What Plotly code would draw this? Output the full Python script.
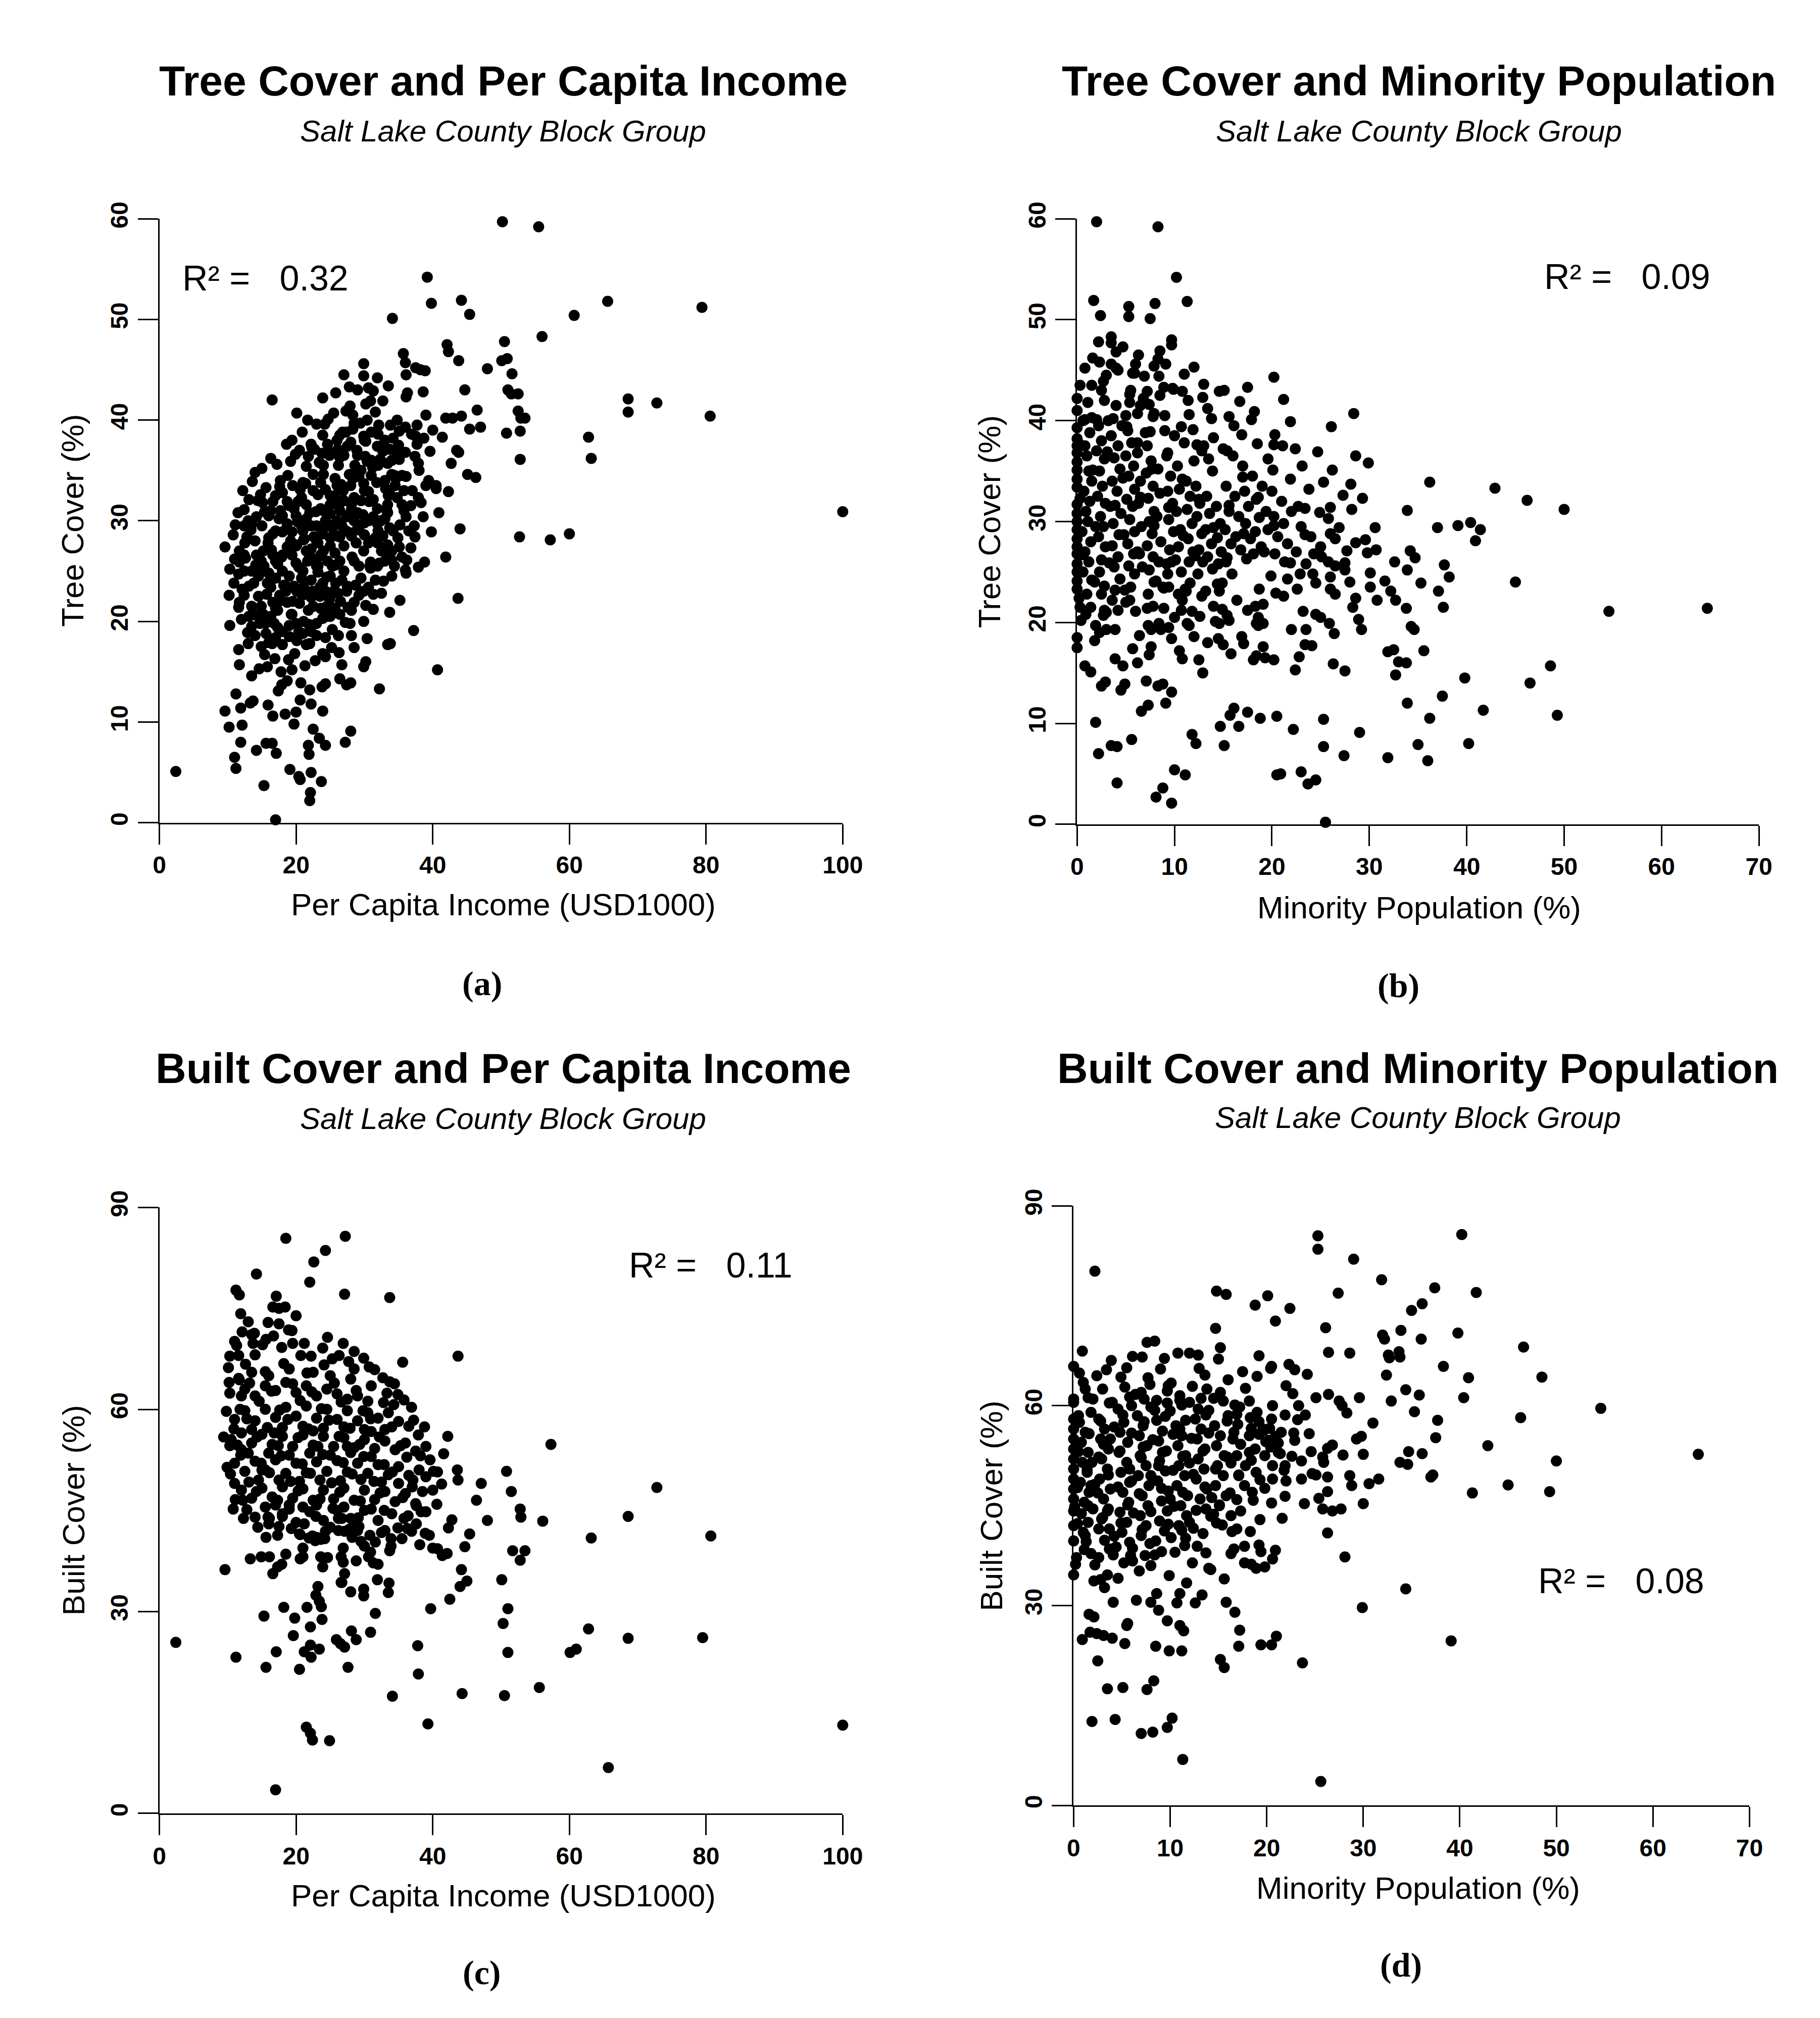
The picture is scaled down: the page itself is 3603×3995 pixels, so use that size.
import plotly.graph_objects as go

W, H = 3603, 3995
PAD = 8  # default <body> margin of the written page

# ---- data: (x, y) pairs per panel ----
tree_income = [
    (2.4, 5.1), (50.2, 59.7), (55.5, 59.2), (39.2, 54.2), (39.8, 51.6), (44.2, 51.9), (45.4, 50.5), (34.1, 50.1),
    (65.6, 51.8), (79.4, 51.2), (60.7, 50.4), (56.0, 48.3), (50.5, 47.8), (50.1, 45.9), (50.9, 46.1), (51.6, 44.6),
    (48.0, 45.1), (42.1, 47.5), (42.3, 46.8), (43.8, 45.9), (35.7, 46.6), (36.0, 45.7), (37.5, 45.2), (38.9, 44.9),
    (38.2, 45.0), (44.7, 43.0), (51.0, 43.0), (51.5, 42.6), (52.5, 42.6), (52.5, 40.9), (52.9, 40.2), (53.5, 40.2),
    (50.8, 38.7), (52.8, 38.9), (52.8, 36.1), (47.0, 39.3), (68.6, 42.1), (68.6, 40.8), (72.8, 41.7), (80.6, 40.4),
    (62.8, 38.3), (63.2, 36.2), (100.0, 30.9), (52.7, 28.4), (57.2, 28.1), (60.0, 28.7), (41.9, 26.4), (43.7, 22.3),
    (40.7, 15.2), (36.1, 44.5), (36.3, 42.7), (36.1, 42.3), (38.6, 42.8), (41.9, 40.2), (42.9, 40.2), (44.2, 40.4),
    (41.4, 38.3), (43.5, 37.0), (43.8, 36.8), (42.7, 35.7), (45.1, 34.6), (46.3, 34.3), (39.4, 34.0), (40.5, 33.2),
    (42.3, 32.9), (37.7, 39.5), (37.5, 38.4), (37.7, 37.6), (37.4, 36.4), (37.9, 35.7), (35.1, 38.9), (36.0, 39.3),
    (37.9, 32.3), (38.6, 30.4), (37.3, 29.5), (37.4, 28.4), (39.8, 28.9), (37.9, 25.4), (36.1, 24.8), (36.0, 25.1),
    (37.2, 19.1), (33.7, 20.9), (33.4, 17.7), (33.8, 17.8), (32.2, 13.3), (31.6, 24.1), (31.3, 21.2), (29.9, 20.0),
    (29.9, 15.5), (30.2, 16.0), (28.0, 9.1), (27.2, 8.0), (27.4, 13.7), (28.0, 13.9), (26.4, 14.3), (26.7, 15.7),
    (26.3, 16.9), (26.2, 18.6), (28.1, 18.6), (28.5, 17.4), (24.3, 18.4), (23.9, 16.8), (24.3, 16.5), (23.8, 13.5),
    (24.3, 13.8), (23.9, 11.1), (22.0, 13.2), (22.2, 11.8), (20.6, 12.2), (22.5, 9.3), (23.4, 8.4), (24.3, 7.7),
    (21.8, 7.7), (21.9, 6.8), (19.1, 5.3), (20.4, 4.6), (20.6, 4.3), (22.2, 5.0), (23.7, 4.1), (22.1, 3.0),
    (22.0, 2.2), (17.0, 0.3), (15.3, 3.7), (17.1, 6.9), (16.5, 7.9), (15.6, 7.9), (14.2, 7.2), (11.0, 6.5),
    (11.2, 5.4), (11.9, 8.0), (10.2, 9.5), (9.6, 11.1), (11.9, 11.4), (12.1, 9.7), (13.3, 11.9), (13.7, 12.1),
    (11.2, 12.8), (15.9, 11.7), (16.6, 10.6), (18.4, 10.8), (20.0, 11.0), (19.7, 9.8), (17.4, 13.1), (18.7, 14.1),
    (17.9, 13.7), (19.4, 15.2), (13.5, 14.6), (11.6, 17.2), (11.7, 15.7), (10.3, 19.6), (10.2, 22.6), (10.3, 25.2),
    (9.6, 27.4), (16.5, 42.0), (17.7, 34.0), (15.6, 33.3), (20.1, 40.7), (21.7, 40.0), (23.9, 42.2), (27.0, 44.5),
    (29.9, 45.6), (29.9, 44.4), (31.9, 44.2), (27.8, 43.3), (31.3, 42.9), (32.7, 41.9), (25.5, 40.7), (27.3, 40.9),
    (30.2, 41.6), (30.9, 41.9), (28.3, 40.5), (28.5, 39.7), (30.4, 40.0), (32.1, 39.5), (18.6, 37.6), (19.4, 38.0),
    (20.5, 37.0), (22.2, 37.6), (22.7, 37.1), (23.9, 38.5), (24.6, 37.6), (23.8, 36.7), (26.4, 38.5), (27.3, 38.8),
    (28.3, 39.1), (29.9, 38.4), (30.2, 37.9), (31.9, 37.4), (32.7, 36.9), (33.7, 37.1), (34.8, 36.7), (35.1, 36.1),
    (32.3, 36.1), (33.4, 35.7), (34.0, 34.6), (34.6, 34.2), (36.1, 34.4), (29.5, 35.0), (30.4, 35.9), (26.4, 36.3),
    (26.2, 35.5), (21.5, 35.4), (22.5, 34.6), (27.8, 34.6), (28.3, 34.2), (25.7, 34.2), (26.2, 33.4), (23.6, 33.8),
    (24.3, 33.1), (29.9, 33.7), (30.6, 32.9), (33.7, 32.7), (34.8, 32.3), (35.5, 31.6), (33.4, 31.6), (35.8, 31.0),
    (36.1, 30.4), (31.3, 32.1), (31.9, 31.2), (28.5, 32.3), (28.1, 31.6), (25.7, 32.5), (26.7, 31.9), (23.6, 31.2),
    (25.0, 31.6), (20.8, 32.3), (21.5, 31.6), (18.7, 31.9), (19.7, 31.2), (16.6, 31.9), (16.3, 31.0), (13.1, 32.1),
    (14.4, 32.0), (12.4, 31.1), (14.2, 30.4), (13.5, 29.7), (12.4, 29.5), (12.8, 28.4), (11.7, 27.0), (12.4, 26.6),
    (11.7, 25.9), (11.6, 24.7), (12.4, 25.0), (12.1, 23.2), (12.4, 22.6), (11.7, 21.9), (11.6, 21.4), (13.5, 21.5),
    (13.8, 20.7), (13.1, 20.5), (13.5, 19.5), (14.9, 21.5), (15.2, 20.7), (14.7, 19.8), (16.6, 21.9), (17.3, 21.1),
    (16.3, 20.5), (15.6, 18.8), (16.0, 17.9), (14.9, 17.5), (15.4, 16.7), (17.3, 19.4), (17.0, 18.4), (18.0, 17.7),
    (19.4, 20.7), (19.0, 19.6), (20.4, 19.0), (20.1, 18.1), (21.5, 17.7), (21.1, 20.0), (21.8, 21.1), (22.2, 19.0),
    (23.0, 19.8), (23.9, 20.3), (23.6, 21.3), (22.2, 22.4), (23.2, 22.8), (24.3, 23.0), (25.7, 21.3), (25.0, 20.5),
    (26.4, 20.7), (28.1, 21.1), (28.5, 21.9), (29.2, 22.6), (27.4, 23.0), (26.7, 24.1), (29.9, 23.0), (30.6, 23.4),
    (25.0, 24.5), (25.8, 23.8), (23.2, 24.9), (23.9, 23.8), (22.2, 24.1), (20.8, 24.3), (21.1, 23.4), (20.1, 23.0),
    (18.4, 23.6), (17.6, 22.6), (18.7, 21.9), (17.0, 24.3), (16.3, 23.4), (14.5, 24.5), (13.8, 23.8), (14.9, 26.0),
    (14.2, 26.6), (15.2, 27.0), (15.9, 27.8), (16.6, 28.7), (16.6, 26.6), (17.3, 25.7), (18.0, 26.6), (18.7, 27.4),
    (19.4, 26.6), (20.1, 27.6), (18.0, 28.9), (18.7, 29.7), (19.4, 28.9), (20.8, 29.5), (21.5, 30.2), (22.2, 29.5),
    (21.1, 28.1), (22.2, 27.2), (23.2, 27.8), (23.9, 28.7), (25.0, 28.3), (23.6, 26.6), (24.6, 26.0), (23.2, 25.5),
    (25.7, 26.8), (26.4, 26.0), (25.3, 25.5), (26.7, 29.5), (27.4, 30.4), (26.4, 31.0), (28.5, 30.0), (29.2, 29.1),
    (28.1, 28.5), (28.8, 27.8), (29.9, 27.0), (30.6, 27.8), (28.5, 26.0), (29.2, 25.5), (30.9, 25.9), (31.9, 25.5),
    (30.9, 25.3), (31.9, 27.8), (32.7, 28.5), (33.4, 27.6), (34.0, 27.0), (35.1, 27.4), (35.5, 26.4), (34.4, 25.5),
    (34.0, 26.1), (31.9, 29.7), (33.0, 30.2), (33.7, 29.3), (30.6, 30.0), (31.3, 30.4), (33.4, 30.8), (25.0, 30.7),
    (24.3, 30.0), (25.3, 29.3), (14.0, 28.0), (15.0, 29.5), (16.0, 30.5), (17.0, 29.0), (18.0, 30.5), (19.0, 31.5),
    (20.0, 30.5), (21.0, 29.0), (22.0, 30.8), (23.0, 29.5), (24.0, 31.0), (25.0, 32.5), (26.0, 33.5), (27.0, 32.0),
    (28.0, 33.5), (29.0, 34.8), (30.0, 33.0), (31.0, 34.5), (32.0, 35.5), (33.0, 34.0), (15.0, 25.0), (16.0, 24.8),
    (17.0, 26.0), (18.0, 25.0), (19.0, 24.5), (20.0, 25.8), (21.0, 25.0), (22.0, 26.5), (23.0, 25.5), (24.0, 27.0),
    (25.0, 27.5), (26.0, 28.5), (27.0, 27.5), (28.0, 28.8), (29.0, 30.8), (30.0, 29.8), (31.0, 28.0), (32.0, 29.0),
    (17.5, 22.0), (18.5, 23.0), (19.5, 22.0), (20.5, 21.8), (21.5, 22.8), (22.5, 21.5), (23.5, 22.5), (24.5, 21.5),
    (25.5, 23.0), (26.5, 22.0), (27.5, 23.5), (18.0, 19.0), (19.0, 18.5), (20.0, 19.8), (21.0, 18.8), (22.0, 17.8),
    (23.0, 18.6), (16.5, 17.8), (15.5, 19.8), (14.5, 22.5), (13.5, 25.0), (12.5, 27.8), (13.0, 30.0), (27.0, 36.5),
    (28.0, 37.8), (29.0, 36.5), (30.0, 38.0), (31.0, 36.0), (32.0, 38.6), (33.0, 38.0), (34.0, 36.0), (35.0, 37.5),
    (36.0, 36.8), (24.0, 35.5), (25.0, 36.8), (26.0, 38.0), (22.5, 33.0), (21.0, 33.8), (19.5, 33.5), (18.0, 32.8),
    (17.0, 32.5), (20.0, 27.5), (21.5, 27.0), (23.0, 28.0), (26.0, 30.0), (27.5, 30.5), (29.5, 32.0), (33.5, 32.5),
    (34.5, 33.5), (35.5, 34.5), (32.5, 27.0), (33.0, 26.0), (34.0, 24.5), (36.5, 29.0), (37.0, 33.0), (38.0, 35.0),
    (39.0, 33.5), (40.5, 33.5),
    (14.2, 20.6), (16.8, 19.8), (19.3, 20.7), (21.9, 19.7), (24.6, 20.5), (27.2, 19.9), (13.1, 23.5), (15.7, 22.7),
    (18.2, 23.6), (20.9, 22.6), (23.5, 23.4), (26.1, 22.8), (28.7, 23.6), (31.3, 22.7), (12.6, 26.3), (15.3, 25.5),
    (17.9, 26.4), (20.4, 25.4), (23.0, 26.2), (25.7, 25.6), (28.2, 26.4), (30.8, 25.5), (33.4, 26.3), (13.4, 29.1),
    (16.0, 28.3), (18.6, 29.2), (21.2, 28.2), (23.8, 29.0), (26.4, 28.4), (29.0, 29.2), (31.6, 28.3), (34.2, 29.0),
    (15.1, 31.8), (17.7, 31.0), (20.3, 31.9), (22.9, 30.9), (25.5, 31.7), (28.1, 31.1), (30.7, 31.9), (33.3, 31.0),
    (18.8, 34.5), (21.4, 33.7), (24.0, 34.6), (26.6, 33.6), (29.2, 34.4), (31.8, 33.8), (34.4, 34.5), (22.3, 37.3),
    (24.9, 36.5), (27.5, 37.4), (30.1, 36.4), (32.7, 37.2), (35.3, 36.6), (24.2, 39.6), (26.8, 38.8), (29.4, 39.7),
    (31.0, 38.8), (33.8, 39.5), (18.9, 16.2), (21.3, 15.6), (20.7, 13.9), (25.3, 19.2), (27.9, 19.8), (30.4, 18.3),
    (32.5, 22.8), (35.2, 22.1), (36.8, 27.3), (38.3, 31.8), (39.6, 36.9), (40.9, 30.8), (14.6, 15.3), (13.0, 17.8),
    (10.9, 23.8), (11.1, 29.6), (12.2, 33.0), (14.0, 34.8), (16.3, 36.2), (19.2, 35.9), (20.9, 38.8), (24.7, 40.1),
    (25.8, 42.7), (29.0, 43.0), (33.5, 43.4), (34.8, 40.0), (40.0, 39.0), (39.0, 40.5), (46.5, 41.0), (45.4, 39.1),
    (44.0, 29.2), (38.8, 25.9),
    (11.0, 26.2), (10.8, 28.6), (11.5, 30.8), (12.0, 20.2), (12.9, 18.9), (14.0, 18.6), (15.8, 15.5), (16.9, 16.3),
    (17.8, 15.0), (19.8, 16.8), (22.8, 16.1), (25.2, 17.4), (13.6, 33.9), (15.0, 35.2), (17.2, 35.6), (19.9, 36.6),
    (21.8, 36.4), (23.0, 39.6), (27.9, 41.4), (30.6, 43.2), (28.6, 35.5), (31.2, 35.3), (33.1, 33.2), (35.8, 33.0),
    (36.8, 31.5), (34.9, 28.3), (36.2, 26.1), (32.8, 24.0), (30.2, 21.6), (27.6, 21.4), (24.9, 22.2), (22.4, 23.0),
    (19.7, 23.5), (17.0, 21.3), (15.8, 23.8), (14.1, 25.6), (16.4, 27.1), (19.2, 28.0), (21.7, 26.0), (24.5, 24.4),
    (27.0, 25.0), (29.5, 24.3), (32.2, 25.8), (30.0, 28.6), (27.3, 29.0), (24.8, 29.6), (22.6, 28.4), (20.2, 29.9),
    (17.5, 30.2), (15.4, 30.9), (14.8, 32.6), (17.6, 33.4), (20.6, 33.1), (23.2, 32.6), (26.9, 33.0), (29.8, 30.6),
    (32.4, 30.0), (35.2, 29.6), (28.9, 37.0), (26.1, 37.1), (23.4, 35.8), (31.6, 40.8), (34.2, 38.2), (36.9, 38.6),
    (38.7, 38.2),
]

tree_minority = [
    (2.0, 59.7), (8.3, 59.2), (10.2, 54.2), (11.3, 51.8), (1.7, 51.9), (2.4, 50.4), (5.3, 51.3), (5.3, 50.3),
    (7.5, 50.1), (8.0, 51.6), (3.5, 48.3), (3.5, 47.7), (9.7, 47.5), (8.5, 46.9), (8.3, 46.1), (7.9, 45.4),
    (6.3, 46.5), (6.9, 44.4), (7.2, 42.9), (7.4, 41.6), (7.9, 40.7), (7.5, 38.9), (0.8, 45.2), (1.6, 46.2),
    (2.3, 45.8), (3.5, 45.6), (4.0, 45.2), (4.2, 45.0), (5.7, 44.7), (5.9, 44.7), (8.4, 44.4), (8.9, 43.3),
    (9.8, 43.2), (10.8, 42.9), (11.4, 42.0), (11.5, 40.6), (5.4, 42.6), (5.4, 41.8), (6.2, 40.7), (5.0, 40.5),
    (5.1, 39.4), (2.0, 40.1), (0.8, 40.1), (0.0, 42.2), (0.0, 41.0), (0.0, 39.3), (0.0, 38.2), (20.2, 44.3),
    (14.6, 42.9), (16.7, 41.9), (21.2, 42.1), (17.9, 40.1), (21.9, 39.9), (20.3, 38.6), (20.2, 37.6), (21.1, 37.5),
    (26.1, 39.4), (28.4, 40.7), (24.7, 36.9), (28.6, 36.5), (29.9, 35.8), (28.1, 33.7), (36.2, 33.9), (42.9, 33.3),
    (46.2, 32.1), (50.0, 31.2), (33.9, 31.1), (23.4, 31.3), (26.0, 31.4), (25.8, 30.3), (37.0, 29.4), (39.1, 29.6),
    (40.4, 29.9), (41.4, 29.2), (40.9, 28.1), (30.6, 29.4), (28.6, 27.9), (29.6, 28.2), (29.8, 26.9), (26.0, 28.8),
    (26.5, 28.3), (27.7, 27.1), (25.1, 26.5), (25.8, 26.0), (26.5, 25.6), (27.5, 25.9), (27.5, 25.2), (34.2, 27.1),
    (34.7, 26.4), (37.7, 25.7), (38.2, 24.5), (33.9, 25.2), (35.3, 23.9), (45.0, 24.0), (30.1, 24.9), (31.6, 24.1),
    (32.2, 23.1), (32.7, 22.2), (30.8, 22.2), (30.1, 23.5), (33.8, 21.4), (37.1, 23.1), (37.6, 21.5), (54.6, 21.1),
    (64.7, 21.4), (24.5, 23.9), (22.9, 24.8), (28.6, 22.4), (28.3, 21.5), (28.9, 20.3), (29.2, 19.3), (26.0, 23.3),
    (26.5, 22.8), (23.2, 21.1), (23.5, 19.3), (22.0, 19.3), (24.5, 20.8), (25.0, 20.5), (25.9, 19.9), (26.4, 18.9),
    (23.4, 17.8), (24.1, 17.7), (22.8, 16.6), (22.4, 15.3), (31.9, 17.1), (32.5, 17.3), (33.0, 16.1), (32.7, 14.8),
    (34.3, 19.6), (34.6, 19.3), (33.8, 16.0), (35.6, 17.2), (27.5, 15.2), (26.3, 15.9), (39.8, 14.5), (46.5, 14.0),
    (48.6, 15.7), (41.7, 11.3), (49.3, 10.8), (37.5, 12.7), (33.9, 12.0), (36.2, 10.5), (40.2, 8.0), (35.0, 7.9),
    (36.0, 6.3), (31.9, 6.6), (29.0, 9.1), (27.4, 6.8), (25.3, 10.4), (25.3, 7.7), (22.2, 9.4), (20.5, 10.7),
    (18.8, 10.5), (17.5, 11.1), (16.1, 11.5), (15.7, 10.8), (16.6, 9.7), (14.7, 9.7), (15.1, 7.8), (11.8, 8.9),
    (12.2, 8.0), (20.5, 4.9), (20.9, 5.0), (23.0, 5.2), (23.7, 4.0), (24.5, 4.4), (25.5, 0.2), (10.0, 5.4),
    (11.1, 4.9), (8.8, 3.6), (8.1, 2.7), (9.7, 2.1), (4.1, 4.1), (3.5, 7.8), (4.1, 7.7), (2.2, 7.0),
    (1.9, 10.1), (5.6, 8.4), (4.5, 13.3), (4.9, 13.9), (2.5, 13.7), (2.9, 14.1), (0.8, 15.7), (1.4, 15.1),
    (3.9, 16.4), (4.7, 15.7), (5.7, 17.4), (6.2, 16.0), (7.1, 14.2), (7.4, 16.8), (7.6, 17.6), (6.6, 11.2),
    (7.3, 11.8), (8.3, 13.7), (8.8, 13.9), (9.1, 12.0), (9.7, 13.1), (10.8, 16.4), (12.5, 16.3), (12.9, 15.0),
    (0.0, 18.5), (0.0, 17.5), (0.9, 20.8), (1.9, 19.7), (2.3, 19.0), (3.0, 19.3), (3.9, 19.3), (4.2, 21.2),
    (5.4, 22.2), (5.0, 22.0), (2.8, 21.2), (2.7, 20.7), (7.2, 21.4), (7.8, 21.6), (7.3, 19.7), (7.6, 19.3),
    (8.4, 19.9), (8.6, 19.3), (9.4, 19.5), (9.7, 18.4), (11.3, 19.9), (11.5, 19.7), (12.0, 18.6), (12.8, 22.6),
    (13.2, 23.1), (14.0, 21.6), (14.2, 20.1), (14.6, 19.9), (15.4, 20.7), (15.6, 20.2), (14.5, 18.4), (15.0, 17.8),
    (15.8, 16.9), (17.1, 17.9), (18.1, 16.3), (18.4, 16.7), (19.1, 17.6), (19.3, 16.5), (18.4, 19.9), (18.6, 19.7),
    (19.1, 19.9), (19.1, 21.8), (18.3, 21.6), (18.6, 20.5), (20.2, 16.3), (14.4, 23.8), (14.6, 23.1), (10.4, 22.8),
    (10.8, 22.2), (11.1, 23.3), (11.6, 23.9), (10.7, 21.2), (8.9, 23.4), (9.4, 23.5),
    (0.0, 34.2), (0.0, 33.4), (0.0, 35.9), (0.0, 35.1), (0.0, 31.7), (0.0, 30.8), (0.0, 30.0), (0.0, 29.2),
    (0.0, 28.3), (0.0, 25.8), (0.0, 25.0), (0.0, 24.1), (0.0, 23.3), (0.0, 36.8), (0.0, 37.5), (0.0, 26.8),
    (0.0, 27.5), (0.6, 40.0), (0.8, 37.5), (1.0, 36.5), (1.2, 35.0), (0.7, 33.0), (1.3, 32.0), (0.9, 31.0),
    (1.1, 30.0), (0.5, 29.0), (1.4, 28.0), (0.8, 27.0), (1.2, 26.0), (0.6, 25.0), (1.5, 24.2), (1.0, 22.8),
    (1.3, 38.8), (1.5, 34.0), (2.2, 39.5), (2.5, 38.0), (2.0, 37.0), (2.8, 36.2), (2.3, 35.0), (2.6, 33.5),
    (2.1, 32.5), (2.9, 31.8), (2.4, 30.5), (2.7, 29.5), (2.2, 28.5), (2.9, 27.5), (2.5, 26.2), (2.3, 25.0),
    (2.8, 23.6), (2.5, 22.8), (3.0, 21.0), (3.7, 40.2), (3.5, 38.5), (4.2, 37.5), (3.8, 36.3), (4.4, 35.2),
    (3.6, 34.0), (4.1, 33.0), (3.9, 31.6), (4.5, 30.8), (3.7, 29.8), (4.3, 28.7), (3.6, 27.6), (4.2, 26.5),
    (3.8, 25.5), (4.4, 24.3), (3.9, 23.2), (5.2, 39.0), (5.6, 37.8), (5.0, 36.5), (5.8, 35.5), (5.3, 34.5),
    (5.9, 33.2), (5.1, 32.2), (5.7, 31.5), (5.4, 30.2), (5.9, 29.0), (5.2, 27.8), (5.8, 26.8), (5.3, 25.6),
    (5.9, 24.8), (5.5, 23.5), (6.2, 36.8), (6.5, 34.0), (6.3, 31.8), (6.6, 29.5), (6.2, 27.0), (6.7, 25.5),
    (7.2, 37.5), (7.6, 36.0), (7.1, 34.8), (7.8, 33.5), (7.3, 32.3), (7.9, 31.0), (7.4, 30.0), (7.7, 28.8),
    (7.2, 27.6), (7.8, 26.5), (7.4, 25.2), (7.9, 24.0), (7.3, 22.8), (8.3, 35.2), (8.5, 32.8), (8.2, 30.5),
    (8.6, 28.0), (8.4, 26.0), (8.8, 23.5), (9.2, 36.5), (9.6, 34.5), (9.3, 33.0), (9.8, 31.8), (9.4, 30.2),
    (9.9, 29.0), (9.5, 27.2), (9.7, 26.0), (9.3, 24.8), (10.3, 35.5), (10.5, 33.2), (10.2, 31.0), (10.6, 29.2),
    (10.4, 27.5), (10.1, 26.2), (10.7, 25.0), (11.2, 34.0), (11.6, 32.5), (11.3, 31.2), (11.8, 29.8), (11.4, 28.3),
    (11.9, 27.0), (11.5, 26.0), (12.2, 33.5), (12.6, 31.8), (12.3, 30.5), (12.8, 28.8), (12.5, 27.2), (12.9, 26.0),
    (12.4, 24.8), (13.3, 32.5), (13.6, 30.8), (13.2, 29.2), (13.8, 27.8), (13.4, 26.5), (13.9, 25.3), (13.5, 36.2),
    (12.8, 37.0), (14.3, 31.5), (14.7, 29.8), (14.4, 28.4), (14.8, 27.0), (14.5, 25.8), (15.3, 33.5), (15.6, 31.0),
    (15.2, 29.2), (15.8, 27.8), (15.4, 26.4), (15.9, 24.8), (16.2, 32.5), (16.6, 30.5), (16.3, 28.5), (16.8, 27.2),
    (17.2, 33.0), (17.6, 31.5), (17.3, 29.8), (17.8, 28.3), (17.4, 26.3), (18.4, 32.2), (18.7, 30.4), (18.3, 29.0),
    (18.9, 27.5), (19.4, 31.0), (19.6, 29.2), (19.2, 27.0), (20.2, 30.5), (20.6, 28.5), (20.3, 26.8), (21.2, 29.8),
    (21.6, 27.8), (21.3, 26.0), (1.5, 43.5), (2.8, 42.0), (3.2, 40.0), (4.0, 41.5), (5.5, 43.0), (6.5, 41.5),
    (8.5, 42.5), (9.0, 40.5), (10.0, 38.5), (11.0, 37.8), (12.0, 36.0), (13.0, 37.5), (14.0, 38.3), (15.0, 37.2),
    (16.0, 36.5), (17.0, 35.5), (18.0, 34.5), (19.0, 33.5), (20.0, 33.0), (21.0, 32.0), (22.0, 31.0), (23.0, 29.5),
    (24.0, 28.5), (25.0, 27.5), (22.5, 27.0), (23.5, 25.8), (24.2, 24.8),
    (1.8, 24.0), (4.9, 23.2), (8.1, 24.1), (11.2, 23.1), (14.9, 23.9), (18.7, 23.3), (0.4, 26.7), (3.3, 25.9),
    (6.4, 26.8), (9.2, 25.8), (12.1, 26.6), (15.3, 26.0), (18.1, 26.8), (21.9, 25.9), (1.9, 29.5), (4.8, 28.7),
    (7.9, 29.6), (10.9, 28.6), (14.0, 29.4), (17.1, 28.8), (20.2, 29.6), (23.4, 28.7), (0.3, 32.3), (3.4, 31.5),
    (6.5, 32.4), (9.4, 31.4), (12.5, 32.2), (15.6, 31.6), (18.6, 32.4), (22.7, 31.5), (1.6, 35.1), (4.7, 34.3),
    (7.7, 35.2), (10.8, 34.2), (13.9, 35.0), (17.0, 34.4), (20.1, 35.1), (0.2, 37.7), (3.1, 36.9), (6.2, 37.8),
    (9.3, 36.8), (12.3, 37.6), (15.4, 37.0), (18.5, 37.7), (1.5, 40.3), (4.6, 39.5), (7.8, 40.4), (10.7, 39.4),
    (13.8, 40.2), (2.5, 43.0), (6.8, 42.2), (9.9, 43.1), (12.9, 42.3), (23.8, 33.2), (24.9, 30.9), (26.9, 29.4),
    (28.2, 31.2), (30.7, 27.2), (32.6, 26.0), (26.2, 35.1), (22.4, 37.2), (16.1, 39.5), (18.2, 40.9), (12.0, 45.3),
    (9.7, 48.0), (4.7, 47.3), (2.7, 43.9), (0.3, 21.5), (1.8, 18.2), (6.4, 18.7), (10.5, 17.2), (13.4, 18.0),
    (16.9, 18.6), (17.5, 21.2), (21.2, 22.6), (11.8, 21.1),
    (0.4, 20.2), (1.4, 21.5), (3.6, 22.2), (6.0, 21.1), (8.9, 21.4), (10.0, 20.5), (12.6, 20.6), (14.9, 21.3),
    (16.4, 22.2), (19.9, 24.6), (21.6, 24.3), (0.2, 22.4), (1.1, 41.8), (0.3, 43.5), (3.0, 44.5), (6.0, 45.6),
    (9.1, 45.6), (11.0, 44.6), (13.4, 41.2), (15.6, 40.4), (16.9, 38.6), (19.6, 36.2), (21.9, 34.2), (23.1, 35.5),
    (25.3, 33.9), (27.3, 32.6), (29.3, 32.3), (24.3, 26.8), (26.0, 24.5), (28.0, 24.0), (22.6, 23.3), (20.4, 22.9),
    (7.0, 38.8), (9.0, 39.0), (11.9, 39.1), (13.0, 43.6), (15.1, 43.0), (17.5, 43.3), (4.0, 46.8), (2.2, 47.8),
]

built_income = [
    (18.5, 85.4), (27.2, 85.7), (24.3, 83.6), (22.6, 81.9), (14.2, 80.1), (22.0, 78.9), (27.1, 77.1), (33.7, 76.6),
    (11.2, 77.7), (11.7, 77.0), (11.9, 74.2), (17.1, 76.8), (17.5, 75.0), (18.4, 75.2), (17.5, 72.7), (16.6, 75.2),
    (12.1, 71.5), (13.5, 71.1), (13.9, 71.3), (15.6, 70.4), (15.1, 69.6), (11.0, 70.1), (10.3, 67.9), (11.6, 68.0),
    (10.1, 66.2), (11.6, 64.6), (11.7, 64.4), (10.3, 62.4), (19.4, 71.7), (21.2, 69.8), (26.9, 69.8), (26.3, 68.0),
    (29.9, 67.6), (35.6, 67.0), (43.7, 67.9), (32.7, 64.7), (33.7, 64.1), (34.4, 63.8), (28.5, 66.0), (34.3, 60.7),
    (37.2, 58.4), (38.8, 57.4), (42.2, 56.0), (41.6, 53.4), (57.3, 54.8), (72.8, 48.4), (68.6, 44.1), (80.7, 41.2),
    (63.2, 40.9), (56.1, 43.4), (52.8, 45.2), (52.9, 44.0), (50.8, 50.8), (51.5, 47.8), (47.1, 49.0), (48.0, 43.5),
    (46.4, 46.5), (43.6, 51.0), (43.7, 49.5), (40.1, 50.8), (40.7, 50.7), (51.7, 39.0), (53.5, 39.0), (52.8, 37.6),
    (50.1, 34.7), (51.0, 30.4), (50.3, 28.2), (51.0, 23.9), (60.1, 23.9), (61.0, 24.4), (62.8, 27.4), (68.6, 26.0),
    (79.5, 26.1), (55.6, 18.7), (50.5, 17.5), (44.3, 17.8), (34.1, 17.4), (39.3, 13.3), (65.7, 6.8), (100.0, 13.1),
    (17.0, 3.5), (21.5, 12.8), (22.1, 11.9), (22.4, 10.9), (24.9, 10.8), (2.4, 25.4), (11.2, 23.2), (15.6, 21.7),
    (17.1, 24.0), (20.5, 21.4), (21.2, 24.0), (22.1, 25.0), (22.2, 23.2), (23.4, 24.4), (22.1, 27.7), (19.6, 26.4),
    (19.8, 29.0), (21.6, 30.6), (18.2, 30.6), (15.3, 29.3), (27.6, 21.7), (25.9, 25.8), (26.5, 25.2), (27.1, 24.7),
    (28.1, 27.1), (28.8, 25.8), (30.9, 26.9), (37.8, 24.9), (37.9, 20.7), (39.7, 30.4), (31.6, 29.7), (29.9, 32.3),
    (29.9, 33.3), (28.0, 32.9), (26.7, 34.3), (23.8, 28.8), (23.7, 30.7), (23.4, 31.5), (22.9, 32.4), (23.2, 33.7),
    (9.6, 36.2), (42.5, 31.8), (44.0, 33.7), (45.0, 34.5), (44.2, 36.2), (44.7, 39.6), (45.4, 41.5), (42.3, 42.4),
    (42.8, 43.6), (41.4, 38.3), (42.1, 38.6), (40.7, 39.3), (40.0, 39.4), (39.5, 41.3), (38.9, 41.6), (38.1, 39.9),
    (31.9, 34.7), (33.6, 34.2), (33.5, 32.8), (33.7, 39.0), (33.9, 39.7), (33.9, 40.8), (32.5, 41.7), (32.0, 37.0),
    (31.3, 37.2), (30.6, 38.1), (29.5, 40.4), (30.0, 39.7), (30.9, 38.8), (28.8, 37.5), (26.9, 37.3), (26.6, 38.1),
    (26.9, 39.4), (27.1, 35.6), (26.6, 34.3), (24.6, 38.0), (23.6, 38.1), (23.9, 36.6), (24.2, 40.8), (23.6, 40.7),
    (22.8, 40.5), (21.9, 40.9), (20.6, 41.4), (21.0, 39.4), (20.6, 37.8), (21.0, 38.1), (18.5, 38.5), (17.9, 37.0),
    (17.3, 36.6), (16.6, 35.6), (16.1, 38.1), (14.9, 38.1), (13.3, 37.8), (15.6, 41.0), (17.3, 41.3), (16.1, 43.8),
    (18.0, 44.1), (26.2, 43.8), (26.7, 43.8), (27.1, 41.9), (27.8, 42.2), (28.5, 43.2), (29.2, 42.6), (35.8, 43.8),
    (36.3, 42.3), (36.9, 41.9), (37.6, 45.7), (38.3, 44.8), (39.0, 44.8), (12.2, 46.5), (9.4, 55.9), (10.3, 54.6),
    (12.5, 63.0), (14.0, 62.0), (15.5, 63.5), (17.0, 62.8), (18.5, 64.0), (20.0, 62.5), (21.5, 63.5), (23.0, 62.0),
    (24.5, 63.0), (26.0, 62.3), (27.5, 61.5), (29.0, 62.0), (30.5, 61.2), (13.5, 65.5), (16.0, 65.0), (19.0, 66.0),
    (22.5, 65.5), (25.0, 65.0), (28.0, 64.5), (31.0, 63.5), (11.0, 58.5), (12.5, 59.8), (14.0, 58.3), (15.5, 60.0),
    (17.0, 58.8), (18.5, 60.3), (20.0, 59.0), (21.5, 60.5), (23.0, 58.7), (24.5, 60.0), (26.0, 58.5), (27.5, 59.8),
    (29.0, 58.3), (30.5, 59.5), (32.0, 58.7), (33.5, 59.5), (35.0, 58.2), (36.5, 57.5), (10.5, 55.5), (12.0, 56.5),
    (13.5, 55.0), (15.0, 56.3), (16.5, 54.8), (18.0, 56.0), (19.5, 54.5), (21.0, 56.2), (22.5, 54.7), (24.0, 56.0),
    (25.5, 54.5), (27.0, 55.8), (28.5, 54.3), (30.0, 55.5), (31.5, 54.2), (33.0, 55.3), (34.5, 54.0), (36.0, 55.0),
    (37.5, 53.8), (39.0, 54.5), (11.0, 52.0), (12.5, 50.8), (14.0, 52.3), (15.5, 51.0), (17.0, 52.5), (18.5, 50.5),
    (20.0, 52.0), (21.5, 50.6), (23.0, 52.2), (24.5, 50.8), (26.0, 52.4), (27.5, 50.7), (29.0, 52.0), (30.5, 50.5),
    (32.0, 51.8), (33.5, 50.3), (35.0, 51.5), (36.5, 50.2), (38.0, 51.0), (12.0, 48.0), (13.5, 46.8), (15.0, 48.3),
    (16.5, 47.0), (18.0, 48.5), (19.5, 46.8), (21.0, 48.2), (22.5, 46.5), (24.0, 48.0), (25.5, 46.7), (27.0, 48.3),
    (28.5, 46.5), (30.0, 48.0), (31.5, 46.6), (33.0, 47.8), (34.5, 46.3), (36.0, 47.5), (37.5, 46.0), (14.0, 44.0),
    (16.0, 43.0), (18.0, 44.5), (20.0, 43.2), (22.0, 44.8), (24.0, 43.5), (26.0, 45.0), (28.0, 43.8), (30.0, 45.0),
    (32.0, 43.5), (34.0, 44.5), (17.0, 45.8), (21.0, 45.5), (25.0, 42.5), (29.0, 42.0), (33.0, 42.0), (13.0, 53.5),
    (16.0, 53.5), (19.0, 53.2), (22.0, 53.5), (25.0, 53.2), (28.0, 53.6), (31.0, 53.0), (14.5, 49.5), (17.5, 49.5),
    (20.5, 49.3), (23.5, 49.5), (26.5, 49.4), (29.5, 49.6), (32.5, 49.2), (18.0, 57.3), (21.0, 57.5), (24.0, 57.2),
    (27.0, 57.4), (30.0, 57.0), (33.0, 57.0), (20.5, 41.5), (23.0, 41.0), (15.5, 45.5), (19.0, 45.8), (23.0, 45.8),
    (27.0, 45.5), (31.0, 45.2), (35.0, 49.0), (37.0, 48.5), (39.0, 50.0),
    (19.3, 42.3), (22.4, 41.2), (26.2, 42.0), (30.8, 41.3), (34.9, 42.4), (12.8, 45.1), (15.9, 44.0), (19.0, 45.2),
    (22.9, 44.1), (25.4, 45.3), (29.1, 43.9), (32.9, 45.0), (36.4, 44.2), (11.1, 46.6), (14.2, 47.8), (17.3, 46.5),
    (20.3, 47.9), (23.5, 46.7), (26.4, 47.7), (29.4, 46.4), (32.3, 47.6), (35.6, 46.9), (10.4, 50.4), (13.1, 49.2),
    (16.1, 50.6), (19.2, 49.3), (22.1, 50.5), (25.2, 49.1), (28.2, 50.4), (31.4, 49.3), (34.1, 50.7), (37.1, 49.5),
    (11.9, 53.2), (14.9, 52.0), (17.8, 53.1), (20.9, 51.9), (23.9, 53.3), (26.9, 52.1), (29.9, 53.0), (32.9, 51.8),
    (36.2, 52.9), (11.4, 54.7), (14.3, 55.9), (17.4, 54.6), (20.3, 55.8), (23.2, 54.5), (26.3, 56.0), (29.3, 54.8),
    (32.2, 55.9), (35.3, 54.6), (12.8, 58.6), (15.8, 57.3), (18.8, 58.5), (21.8, 57.1), (24.8, 58.4), (27.9, 57.2),
    (30.9, 58.6), (34.0, 57.4), (11.8, 60.0), (14.6, 61.2), (17.6, 59.9), (20.6, 61.3), (23.7, 60.1), (26.6, 61.1),
    (29.8, 59.8), (32.8, 61.0), (13.2, 63.9), (16.4, 62.7), (19.5, 63.8), (22.3, 62.6), (25.6, 63.9), (28.8, 62.8),
    (12.6, 66.7), (15.5, 65.6), (18.2, 66.8), (21.6, 65.4), (24.1, 66.6), (14.0, 68.1), (17.9, 69.2), (20.7, 68.0),
    (23.9, 69.1), (15.9, 72.9), (18.9, 71.8), (13.0, 73.0), (9.8, 59.7), (9.9, 51.4), (10.8, 45.2), (38.5, 47.8),
    (40.6, 45.9), (41.3, 48.9), (39.6, 52.5), (36.9, 60.3), (34.9, 62.2), (31.5, 65.9), (27.7, 67.1), (24.6, 70.7),
    (20.0, 73.9), (13.5, 57.0), (16.8, 56.5), (22.5, 56.8), (27.5, 54.5), (31.0, 56.7), (12.0, 54.0), (15.0, 51.0),
    (10.9, 57.1), (12.0, 62.0), (10.2, 64.0), (11.3, 69.5), (13.7, 69.8), (16.7, 70.9), (19.5, 69.8), (22.2, 67.9),
    (25.3, 67.5), (28.5, 68.6), (30.7, 66.3), (33.3, 62.4), (35.8, 61.4), (37.9, 56.2), (38.2, 53.1), (40.0, 48.0),
    (37.6, 43.0), (35.5, 40.8), (31.6, 40.3), (28.2, 41.0), (24.3, 41.9), (21.2, 43.0), (17.5, 42.6), (14.4, 42.5),
    (12.3, 43.8), (11.0, 49.0),
]

built_minority = [
    (2.2, 80.2), (25.3, 85.5), (25.3, 83.5), (40.2, 85.7), (29.0, 82.0), (31.9, 78.9), (37.4, 77.7), (41.7, 77.0),
    (27.4, 76.9), (14.8, 77.2), (15.8, 76.7), (20.1, 76.5), (18.8, 75.1), (22.4, 74.6), (20.9, 72.7), (36.1, 75.3),
    (35.0, 74.3), (14.7, 71.6), (26.1, 71.7), (33.9, 71.3), (32.0, 70.6), (32.2, 70.0), (39.8, 70.9), (36.0, 70.0),
    (46.6, 68.8), (15.2, 68.7), (15.0, 67.0), (26.4, 68.0), (28.6, 67.9), (32.6, 67.6), (32.7, 67.2), (33.7, 68.1),
    (33.8, 67.3), (38.3, 65.9), (32.4, 64.6), (40.9, 64.2), (48.5, 64.3), (32.9, 60.7), (34.4, 62.4), (35.8, 61.6),
    (40.4, 61.2), (35.3, 59.1), (37.7, 57.8), (37.5, 55.2), (46.3, 58.2), (54.6, 59.6), (42.9, 54.0), (50.0, 51.7),
    (64.7, 52.7), (41.3, 46.9), (45.0, 48.1), (49.3, 47.1), (37.0, 49.3), (37.2, 49.6), (33.8, 51.5), (34.6, 51.2),
    (34.7, 53.1), (36.1, 52.8), (29.6, 61.2), (31.0, 57.4), (29.8, 55.4), (29.3, 55.0), (30.0, 52.7), (30.6, 48.3),
    (31.6, 49.0), (30.0, 45.3), (28.6, 49.5), (28.8, 48.0), (27.7, 44.5), (26.8, 44.2), (25.8, 44.5), (25.4, 46.1),
    (26.3, 47.1), (26.3, 40.9), (28.1, 37.3), (29.9, 29.7), (34.4, 32.5), (39.1, 24.7), (23.7, 21.4), (25.6, 3.6),
    (11.3, 6.9), (7.0, 10.8), (8.2, 11.0), (9.7, 11.7), (10.2, 13.1), (1.9, 12.6), (4.3, 12.9), (3.5, 17.5),
    (5.1, 17.7), (7.6, 17.4), (8.3, 18.7), (2.5, 21.7), (0.9, 24.9), (1.7, 26.0), (2.4, 25.8), (3.1, 25.5),
    (4.0, 25.1), (5.3, 24.3), (5.5, 27.0), (5.6, 27.3), (1.6, 28.7), (2.1, 28.3), (4.1, 30.5), (6.5, 30.8),
    (8.0, 30.5), (8.6, 31.8), (8.8, 29.3), (8.5, 23.9), (9.7, 27.7), (9.9, 23.2), (11.2, 23.2), (10.7, 30.4),
    (11.0, 31.8), (11.7, 33.4), (11.0, 27.0), (11.4, 26.2), (12.6, 30.4), (13.3, 31.6), (15.2, 21.9), (15.6, 20.7),
    (15.8, 30.5), (16.7, 29.0), (17.2, 26.3), (17.1, 23.9), (19.4, 24.1), (20.5, 24.1), (21.0, 25.4), (2.1, 33.7),
    (2.8, 33.9), (3.2, 32.7), (3.5, 34.6), (4.6, 34.1), (4.1, 37.6), (3.7, 38.5), (5.9, 37.5), (6.1, 36.7),
    (7.4, 37.5), (9.1, 38.1), (11.5, 39.0), (13.7, 37.9), (14.0, 35.6), (14.2, 35.4), (16.3, 37.8), (16.6, 38.5),
    (17.7, 38.9), (18.4, 36.2), (17.7, 36.4), (18.9, 35.6), (19.8, 35.8), (19.2, 39.1), (19.4, 38.1), (20.6, 37.0),
    (20.9, 38.3), (21.6, 43.1), (18.3, 41.1), (19.3, 42.9), (16.9, 41.5), (16.4, 41.1), (15.4, 42.1), (14.5, 43.7),
    (11.2, 41.3), (12.0, 42.5), (0.0, 34.6), (0.0, 39.7), (0.1, 44.8), (0.0, 65.9), (0.0, 61.0), (0.0, 60.5),
    (0.9, 68.2), (1.2, 62.5), (3.4, 65.4), (3.9, 66.8), (4.9, 64.3), (6.1, 67.4), (7.1, 67.3), (7.6, 69.5),
    (8.4, 69.7), (9.4, 67.1), (10.8, 67.9), (12.0, 67.9), (12.9, 67.6), (13.0, 65.6), (13.6, 64.6), (13.8, 62.5),
    (7.7, 64.2), (9.8, 63.0), (9.7, 62.2), (6.4, 61.7), (7.3, 61.0), (8.6, 60.8), (11.0, 60.8), (11.2, 60.1),
    (14.5, 61.1), (15.5, 60.7), (16.0, 63.9), (17.8, 62.6), (19.0, 64.4), (19.2, 67.5), (20.5, 65.9), (20.4, 65.6),
    (22.0, 63.0), (22.3, 66.2), (22.9, 65.4), (24.2, 64.7), (20.6, 60.0), (23.3, 60.0), (23.2, 57.9), (25.1, 61.2),
    (26.4, 61.7), (27.5, 60.7), (27.8, 60.0), (28.3, 58.9), (17.2, 59.8), (16.9, 58.7), (18.3, 58.2), (18.4, 56.6),
    (19.2, 57.6), (19.7, 56.3), (19.9, 54.6), (20.4, 53.8), (20.9, 55.4), (21.4, 52.8), (21.9, 51.0), (22.0, 48.7),
    (22.9, 54.8), (24.6, 53.1), (23.6, 51.7), (23.6, 49.0), (25.8, 52.3), (25.9, 51.5), (26.3, 49.3), (24.7, 49.8),
    (25.1, 49.6), (26.3, 53.6), (26.8, 54.1),
    (0.0, 55.0), (0.0, 53.5), (0.0, 52.0), (0.0, 50.5), (0.0, 49.0), (0.0, 47.5), (0.0, 46.0), (0.0, 56.5),
    (0.0, 58.0), (0.0, 44.2), (0.0, 42.0), (0.6, 57.5), (1.2, 56.0), (0.8, 54.5), (1.5, 53.0), (0.9, 51.5),
    (1.4, 50.0), (0.7, 48.5), (1.6, 47.0), (1.1, 45.5), (0.8, 43.8), (1.5, 42.5), (1.2, 40.5), (1.8, 59.0),
    (1.9, 51.5), (1.8, 48.0), (2.0, 44.5), (2.6, 58.0), (3.2, 56.5), (2.8, 55.0), (3.6, 53.5), (2.9, 52.0),
    (3.5, 50.5), (2.7, 49.0), (3.8, 47.5), (3.1, 46.0), (3.6, 44.5), (2.9, 43.0), (3.7, 41.5), (3.2, 39.8),
    (3.9, 38.5), (4.6, 59.5), (5.2, 57.5), (4.8, 56.0), (5.6, 54.5), (4.7, 53.0), (5.5, 51.5), (4.9, 50.0),
    (5.8, 48.5), (5.1, 47.0), (5.7, 45.5), (4.8, 44.0), (5.5, 42.5), (5.0, 41.0), (5.8, 39.5), (6.6, 58.5),
    (7.2, 57.0), (6.8, 55.5), (7.6, 54.0), (6.9, 52.5), (7.5, 51.0), (6.7, 49.5), (7.8, 48.0), (7.1, 46.5),
    (7.7, 45.0), (6.9, 43.5), (7.5, 42.0), (7.0, 40.5), (7.9, 39.3), (8.6, 57.8), (9.2, 56.2), (8.8, 54.7),
    (9.6, 53.2), (8.9, 51.7), (9.5, 50.2), (8.7, 48.7), (9.8, 47.2), (9.1, 45.7), (9.7, 44.2), (8.9, 42.7),
    (9.4, 41.2), (10.6, 57.0), (11.2, 55.5), (10.8, 54.0), (11.6, 52.5), (10.9, 51.0), (11.5, 49.5), (10.7, 48.0),
    (11.8, 46.5), (11.1, 45.0), (11.7, 43.5), (10.9, 42.0), (12.6, 58.0), (13.2, 56.5), (12.8, 55.0), (13.6, 53.5),
    (12.9, 52.0), (13.5, 50.5), (12.7, 49.0), (13.8, 47.5), (13.1, 46.0), (13.7, 44.5), (14.6, 57.0), (15.2, 55.5),
    (14.8, 54.0), (15.6, 52.5), (14.9, 51.0), (15.5, 49.5), (14.7, 48.0), (15.8, 46.5), (15.1, 45.0), (16.6, 56.0),
    (17.3, 54.2), (16.9, 52.5), (17.8, 51.0), (17.1, 49.5), (17.7, 48.0), (18.2, 55.5), (18.8, 53.5), (18.4, 51.8),
    (18.9, 50.0), (18.5, 47.0), (19.6, 56.5), (20.2, 54.8), (19.8, 52.5), (20.6, 51.0), (21.2, 53.0), (21.5, 56.0),
    (20.5, 58.0), (2.0, 61.0), (4.0, 60.5), (6.0, 60.0), (8.0, 59.8), (10.0, 59.2), (12.0, 60.5), (14.0, 59.3),
    (16.0, 58.5), (3.0, 62.5), (7.0, 62.0), (11.0, 61.5), (1.0, 63.5),
    (1.3, 39.6), (4.4, 38.8), (8.5, 39.7), (12.8, 38.9), (0.4, 42.3), (2.6, 41.5), (4.9, 42.4), (7.1, 41.4),
    (9.8, 42.2), (12.4, 41.6), (14.8, 42.4), (1.5, 45.0), (3.5, 44.2), (5.6, 45.1), (8.0, 44.1), (10.4, 44.9),
    (12.7, 44.3), (15.1, 45.1), (17.3, 44.2), (0.4, 47.7), (2.5, 46.9), (4.6, 47.8), (6.8, 46.8), (9.1, 47.6),
    (11.3, 47.0), (13.6, 47.8), (16.2, 46.9), (19.8, 47.6), (1.4, 50.4), (3.6, 49.6), (5.8, 50.5), (8.0, 49.5),
    (10.3, 50.3), (12.4, 49.7), (14.7, 50.5), (17.1, 49.6), (21.8, 50.3), (0.5, 53.1), (2.6, 52.3), (4.8, 53.2),
    (7.0, 52.2), (9.2, 53.0), (11.3, 52.4), (13.4, 53.2), (15.9, 52.3), (18.2, 53.0), (22.6, 52.4), (1.6, 55.8),
    (3.8, 55.0), (6.0, 55.9), (8.2, 54.9), (10.3, 55.7), (12.2, 55.1), (14.0, 55.9), (16.5, 55.0), (19.2, 55.7),
    (0.5, 58.5), (2.8, 57.7), (5.1, 58.6), (7.3, 57.6), (9.5, 58.4), (11.6, 57.8), (13.7, 58.6), (15.9, 57.7),
    (1.5, 61.2), (3.7, 60.4), (5.8, 61.3), (9.7, 60.4), (13.2, 61.1), (0.3, 37.2), (2.2, 36.1), (6.8, 35.2),
    (9.9, 34.5), (12.3, 36.4), (15.6, 34.0), (21.9, 46.4), (23.9, 45.3), (24.4, 55.8), (27.9, 52.6), (24.0, 58.6),
    (22.7, 61.8), (17.5, 65.1), (9.0, 65.5), (5.3, 62.8), (1.0, 41.0), (3.0, 43.2), (6.2, 43.9), (10.0, 46.0),
    (14.3, 46.2), (2.2, 48.2), (6.0, 48.7), (8.8, 51.0), (12.0, 51.4), (16.3, 51.4), (3.1, 54.2), (7.2, 53.8),
    (11.0, 56.5), (4.2, 56.8), (8.4, 59.3), (12.9, 59.5), (17.0, 57.2), (19.0, 59.0), (20.3, 56.6), (1.8, 37.8),
    (5.2, 36.4), (8.0, 36.0), (10.5, 38.0),
    (0.2, 36.2), (1.1, 38.4), (2.6, 37.2), (4.2, 40.4), (6.1, 38.6), (8.4, 37.6), (10.1, 40.2), (11.6, 40.1),
    (13.4, 40.8), (14.2, 43.4), (16.3, 43.5), (16.9, 45.9), (18.6, 45.8), (20.5, 45.4), (19.3, 48.9), (20.6, 49.0),
    (21.2, 54.4), (22.8, 55.9), (21.9, 58.6), (18.2, 60.7), (16.7, 60.1), (15.2, 62.0), (12.3, 62.9), (10.1, 63.4),
    (7.9, 63.2), (5.5, 65.7), (2.4, 64.5), (0.6, 64.9),
]

income_ticks = [0, 20, 40, 60, 80, 100]
minority_ticks = [0, 10, 20, 30, 40, 50, 60, 70]
tree_ticks = [0, 10, 20, 30, 40, 50, 60]
built_ticks = [0, 30, 60, 90]

# page-pixel placement of each panel (plot box = first..last tick) and its texts
panels = [
    dict(pts=tree_income, xt=income_ticks, yt=tree_ticks,
         title="Tree Cover and Per Capita Income", xlab="Per Capita Income (USD1000)",
         ylab="Tree Cover (%)", r2="0.32", tag="a",
         box=(307, 1680, 403, 1611), tx=998, ty=127, sy=228, ylx=133, xly=1774,
         lab=(955, 1932), r2pos=(351, 522)),
    dict(pts=tree_minority, xt=minority_ticks, yt=tree_ticks,
         title="Tree Cover and Minority Population", xlab="Minority Population (%)",
         ylab="Tree Cover (%)", r2="0.09", tag="b",
         box=(2151, 3521, 403, 1614), tx=2838, ty=127, sy=228, ylx=1975, xly=1780,
         lab=(2797, 1936), r2pos=(3088, 519)),
    dict(pts=built_income, xt=income_ticks, yt=built_ticks,
         title="Built Cover and Per Capita Income", xlab="Per Capita Income (USD1000)",
         ylab="Built Cover (%)", r2="0.11", tag="c",
         box=(307, 1680, 2380, 3592), tx=998, ty=2102, sy=2203, ylx=134, xly=3756,
         lab=(954, 3910), r2pos=(1248, 2496)),
    dict(pts=built_minority, xt=minority_ticks, yt=built_ticks,
         title="Built Cover and Minority Population", xlab="Minority Population (%)",
         ylab="Built Cover (%)", r2="0.08", tag="d",
         box=(2144, 3502, 2377, 3576), tx=2836, ty=2102, sy=2201, ylx=1979, xly=3741,
         lab=(2802, 3895), r2pos=(3075, 3127)),
]

FW, FH = W - 2 * PAD, H - 2 * PAD


def px(x):
    return (x - PAD) / FW


def py(y):
    return 1 - (y - PAD) / FH


SANS = "Liberation Sans, Arial, sans-serif"
fig = go.Figure()
annotations = []

for i, p in enumerate(panels, start=1):
    sfx = "" if i == 1 else str(i)
    xs = [a for a, b in p["pts"]]
    ys = [b for a, b in p["pts"]]
    fig.add_trace(go.Scatter(
        x=xs, y=ys, mode="markers", xaxis="x" + sfx, yaxis="y" + sfx,
        marker=dict(color="black", size=22, line=dict(width=0)),
        cliponaxis=False, showlegend=False, hoverinfo="x+y",
    ))
    x0, x1, y0, y1 = p["box"]
    axis_common = dict(
        showline=True, linecolor="black", linewidth=3, showgrid=False, zeroline=False,
        ticks="outside", ticklen=40, tickwidth=3, tickcolor="black",
        tickfont=dict(family=SANS, size=48, color="black", weight="bold"),
    )
    fig.update_layout(**{
        "xaxis" + sfx: dict(axis_common, domain=[px(x0), px(x1)], anchor="y" + sfx,
                            range=[p["xt"][0], p["xt"][-1]], tickvals=p["xt"]),
        "yaxis" + sfx: dict(axis_common, domain=[py(y1), py(y0)], anchor="x" + sfx,
                            range=[p["yt"][0], p["yt"][-1]], tickvals=p["yt"], tickangle=-90),
    })
    annotations += [
        dict(text=p["title"], x=px(p["tx"]), y=py(p["ty"]),
             font=dict(family=SANS, size=84, color="black", weight="bold")),
        dict(text="Salt Lake County Block Group", x=px(p["tx"]), y=py(p["sy"]),
             font=dict(family=SANS, size=60, color="black", style="italic")),
        dict(text=p["xlab"], x=px(p["tx"]), y=py(p["xly"]),
             font=dict(family=SANS, size=62, color="black")),
        dict(text=p["ylab"], x=px(p["ylx"]), y=py((y0 + y1) / 2), textangle=-90,
             font=dict(family=SANS, size=62, color="black")),
        dict(text="R\u00b2\u00a0=\u00a0\u00a0\u00a0" + p["r2"], x=px(p["r2pos"][0]), y=py(p["r2pos"][1]),
             xanchor="left", font=dict(family=SANS, size=70, color="black")),
        dict(text="(%s)" % p["tag"], x=px(p["lab"][0]), y=py(p["lab"][1]),
             font=dict(family="Liberation Serif, Times New Roman, serif", size=68, color="black",
                       weight="bold")),
    ]

for a in annotations:
    a.update(xref="paper", yref="paper", showarrow=False)
    a.setdefault("xanchor", "center")
    a.setdefault("yanchor", "middle")

fig.update_layout(
    width=FW, height=FH, margin=dict(l=0, r=0, t=0, b=0),
    paper_bgcolor="white", plot_bgcolor="white",
    annotations=annotations, showlegend=False,
)

fig.write_html("out.html")
